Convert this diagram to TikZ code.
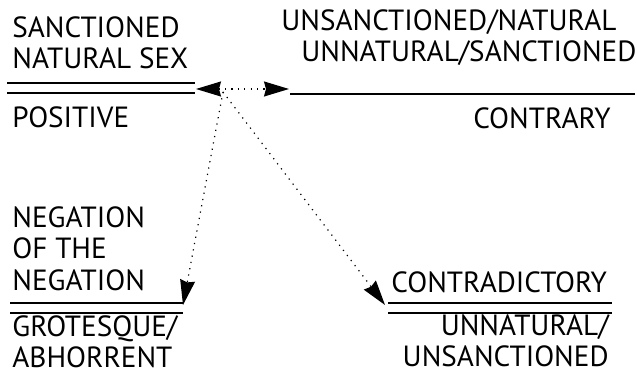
\documentclass[tikz,border=0pt]{standalone}
\usepackage{fontspec}
\setmainfont{PT Sans}
\usetikzlibrary{arrows.meta}

\begin{document}
\begin{tikzpicture}[
        x=0.5pt, y=-0.5pt,
        >={Stealth[length=12.5pt, width=7.5pt, inset=1pt]},
        term/.style={inner sep=0pt, font=\fontsize{14.6}{15.75}\selectfont, align=left},
        rule/.style={line width=0.9pt},
        relation/.style={->, dash pattern=on 0.6pt off 2.6pt, line width=0.6pt}
    ]
        \useasboundingbox (0,0) rectangle (637,373);

        % Positive (top left)
        \node[term, anchor=north west] (sanc) at (12,16) {SANCTIONED\\NATURAL SEX};
        \node[term, anchor=north west] (positive) at (12,106) {POSITIVE};
        \foreach \y in {83,93} {
            \draw[rule] (7,\y) -- (195,\y);
        }
        \coordinate (posTip) at (196,89);

        % Contrary (top right)
        \node[term, anchor=north west] (unsanc) at (281,9) {UNSANCTIONED/NATURAL\\\hspace*{10pt}UNNATURAL/SANCTIONED};
        \node[term, anchor=north east] (contrary) at (611,107) {CONTRARY};
        \draw[rule] (290,94) -- (635,94);
        \coordinate (conTip) at (289,89);

        % Negation of the negation (bottom left)
        \node[term, anchor=north west] (negneg) at (12,206) {NEGATION\\OF THE\\NEGATION};
        \node[term, anchor=north west] (grotesque) at (12,315) {GROTESQUE/\\ABHORRENT};
        \foreach \y in {303,313} {
            \draw[rule] (10,\y) -- (183,\y);
        }
        \coordinate (negTip) at (183,305);

        % Contradictory (bottom right)
        \node[term, anchor=north west] (contra) at (391,271) {CONTRADICTORY};
        \node[term, anchor=north east, align=right] (unnat) at (609,314) {UNNATURAL/\\UNSANCTIONED};
        \foreach \y in {303,313} {
            \draw[rule] (388,\y) -- (612,\y);
        }
        \coordinate (contraTip) at (385,305);

        % Relations
        \coordinate (apex) at (223,92);
        \draw[relation, <->] (posTip) -- (conTip);
        \draw[relation] (apex) -- (negTip);
        \draw[relation] (apex) -- (contraTip);
    \end{tikzpicture}
\end{document}
